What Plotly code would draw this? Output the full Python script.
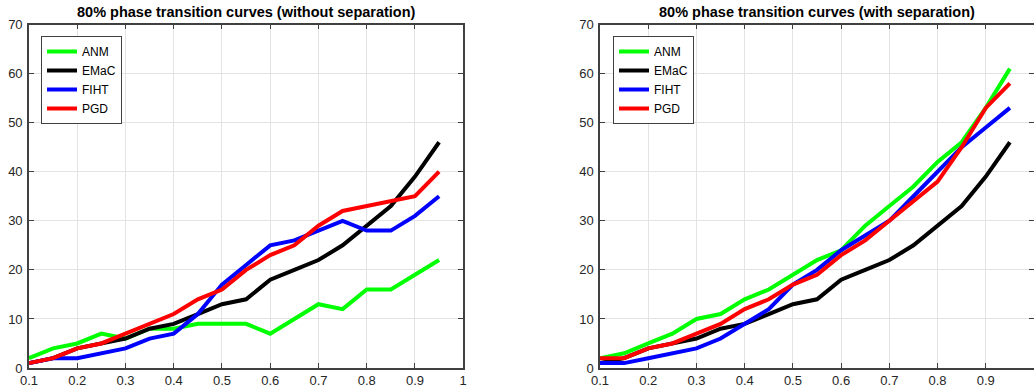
import plotly.graph_objects as go

x_vals = [0.1, 0.15, 0.2, 0.25, 0.3, 0.35, 0.4, 0.45, 0.5, 0.55, 0.6, 0.65, 0.7, 0.75, 0.8, 0.85, 0.9, 0.95]
series_names = ["ANM", "EMaC", "FIHT", "PGD"]
series_colors = ["#00ff00", "#000000", "#0000ff", "#ff0000"]

# without separation
anm_wo = [2, 4, 5, 7, 6, 8, 8, 9, 9, 9, 7, 10, 13, 12, 16, 16, 19, 22]
emac_wo = [1, 2, 4, 5, 6, 8, 9, 11, 13, 14, 18, 20, 22, 25, 29, 33, 39, 46]
fiht_wo = [1, 2, 2, 3, 4, 6, 7, 11, 17, 21, 25, 26, 28, 30, 28, 28, 31, 35]
pgd_wo = [1, 2, 4, 5, 7, 9, 11, 14, 16, 20, 23, 25, 29, 32, 33, 34, 35, 40]

# with separation
anm_w = [2, 3, 5, 7, 10, 11, 14, 16, 19, 22, 24, 29, 33, 37, 42, 46, 53, 61]
emac_w = [1, 2, 4, 5, 6, 8, 9, 11, 13, 14, 18, 20, 22, 25, 29, 33, 39, 46]
fiht_w = [1, 1, 2, 3, 4, 6, 9, 12, 17, 20, 24, 27, 30, 35, 40, 45, 49, 53]
pgd_w = [2, 2, 4, 5, 7, 9, 12, 14, 17, 19, 23, 26, 30, 34, 38, 45, 53, 58]

titles = ["80% phase transition curves (without separation)",
          "80% phase transition curves (with separation)"]
x_ticks = [0.1, 0.2, 0.3, 0.4, 0.5, 0.6, 0.7, 0.8, 0.9, 1.0]
x_tick_text = ["0.1", "0.2", "0.3", "0.4", "0.5", "0.6", "0.7", "0.8", "0.9", "1"]
y_ticks = [0, 10, 20, 30, 40, 50, 60, 70]

FONT = "Liberation Sans, Arial, sans-serif"
fig = go.Figure()

panels = [
    ([anm_wo, emac_wo, fiht_wo, pgd_wo], "x", "y", "legend"),
    ([anm_w, emac_w, fiht_w, pgd_w], "x2", "y2", "legend2"),
]
for data, xa, ya, lg in panels:
    for name, col, vals in zip(series_names, series_colors, data):
        fig.add_trace(go.Scatter(
            x=x_vals, y=vals, mode="lines", name=name,
            line=dict(color=col, width=4),
            xaxis=xa, yaxis=ya, legend=lg, showlegend=True,
        ))

ydom = [0.0612, 0.9375]
axis_common = dict(
    showline=True, linecolor="#404040", linewidth=1.5, mirror="ticks",
    ticks="inside", ticklen=5, tickcolor="#404040",
    showgrid=True, gridcolor="#e3e3e3", gridwidth=1, zeroline=False,
    automargin=False,
    tickfont=dict(family=FONT, size=13, color="#262626"),
)
legend_common = dict(
    xanchor="left", yanchor="top",
    bordercolor="#404040", borderwidth=1, bgcolor="white",
    font=dict(family=FONT, size=12, color="#000000"),
    itemwidth=30, tracegroupgap=0,
)
fig.update_layout(
    width=1034, height=392,
    margin=dict(l=0, r=0, t=0, b=0, autoexpand=False),
    paper_bgcolor="white", plot_bgcolor="white",
    font=dict(family=FONT),
    xaxis=dict(domain=[0.028, 0.448], range=[0.1, 1.0], tickvals=x_ticks, ticktext=x_tick_text,
               anchor="y", **axis_common),
    yaxis=dict(domain=ydom, range=[0, 70], tickvals=y_ticks, anchor="x",
               ticklabelstandoff=2, **axis_common),
    xaxis2=dict(domain=[0.5803, 1.0], range=[0.1, 1.0], tickvals=x_ticks, ticktext=x_tick_text,
                anchor="y2", **axis_common),
    yaxis2=dict(domain=ydom, range=[0, 70], tickvals=y_ticks, anchor="x2",
                ticklabelstandoff=2, **axis_common),
    legend=dict(x=41 / 1034, y=1 - 36 / 392, **legend_common),
    legend2=dict(x=613 / 1034, y=1 - 36 / 392, **legend_common),
    annotations=[
        dict(text="<b>" + titles[0] + "</b>", x=(0.028 + 0.448) / 2, y=1 - 12 / 392,
             xref="paper", yref="paper", showarrow=False, xanchor="center", yanchor="middle",
             font=dict(family=FONT, size=14.5, color="#000000")),
        dict(text="<b>" + titles[1] + "</b>", x=(0.5803 + 1.0) / 2, y=1 - 12 / 392,
             xref="paper", yref="paper", showarrow=False, xanchor="center", yanchor="middle",
             font=dict(family=FONT, size=14.5, color="#000000")),
    ],
)

fig.write_html(
    "out.html",
    config={"displayModeBar": False},
    post_script="document.body.style.margin='0';document.body.style.overflow='hidden';",
)
